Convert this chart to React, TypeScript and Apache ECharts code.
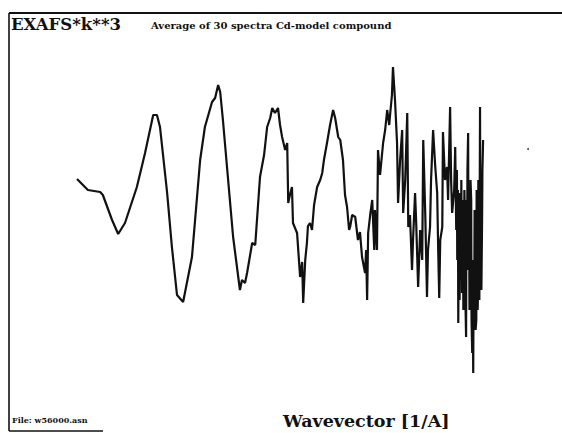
import React, { useEffect, useRef } from "react";
import * as echarts from "echarts";

// Wavevector k [1/A]
const kValues = [
  2.0, 2.32, 2.68, 2.76, 3.03, 3.21, 3.41, 3.76, 4.0, 4.24, 4.35, 4.44, 4.65, 4.79, 4.94, 5.12,
  5.38, 5.62, 5.76, 5.97, 6.06, 6.15, 6.21, 6.29, 6.41, 6.59, 6.79, 6.85, 6.94, 7.0, 7.15, 7.24,
  7.38, 7.5, 7.59, 7.68, 7.74, 7.82, 7.91, 7.97, 8.03, 8.12, 8.18, 8.21, 8.26, 8.32, 8.35, 8.47,
  8.56, 8.62, 8.65, 8.71, 8.76, 8.79, 8.85, 8.91, 8.97, 9.06, 9.15, 9.21, 9.26, 9.35, 9.44, 9.53,
  9.59, 9.68, 9.74, 9.82, 9.88, 9.94, 10.0, 10.03, 10.09, 10.18, 10.26, 10.32, 10.38, 10.47, 10.5,
  10.53, 10.56, 10.62, 10.68, 10.74, 10.76, 10.82, 10.85, 10.91, 11.0, 11.06, 11.12, 11.18, 11.21,
  11.26, 11.29, 11.35, 11.41, 11.44, 11.5, 11.56, 11.59, 11.65, 11.71, 11.74, 11.79, 11.85, 11.88,
  11.94, 11.97, 12.03, 12.09, 12.15, 12.18, 12.24, 12.29, 12.32, 12.38, 12.41, 12.47, 12.53, 12.59,
  12.62, 12.65, 12.68, 12.74, 12.76, 12.82, 12.88, 12.91, 12.97, 13.0, 13.03, 13.09, 13.12,
  13.15, 13.17, 13.18, 13.2, 13.21, 13.23, 13.24, 13.25, 13.26, 13.28, 13.29, 13.3, 13.32, 13.33,
  13.34, 13.36, 13.38, 13.39, 13.41, 13.42, 13.44, 13.45, 13.47, 13.48, 13.5, 13.51, 13.53, 13.54,
  13.56, 13.57, 13.59, 13.6, 13.62, 13.63, 13.65, 13.66, 13.68, 13.69, 13.71, 13.72, 13.74, 13.75,
  13.76, 13.78, 13.79, 13.8, 13.82, 13.83, 13.85, 13.86, 13.88, 13.89, 13.91, 13.92, 13.94,
];

// EXAFS * k^3 (arbitrary units)
const chiK3 = [
  5.1, 4.0, 3.8, 3.5, 1.0, -0.4, 0.7, 4.3, 7.7, 11.5, 11.5, 10.3, 3.7, -1.7, -6.5, -7.2,
  -2.7, 7.0, 10.3, 12.8, 13.2, 14.5, 13.8, 11.0, 6.3, -0.7, -6.0, -5.0, -5.3, -4.3, -1.3, -1.5,
  5.3, 7.5, 10.3, 11.2, 12.2, 11.7, 12.2, 10.5, 9.3, 8.0, 8.7, 2.7, 3.5, 4.3, 0.7, -0.3,
  -4.7, -3.2, -7.3, -3.0, -1.3, 0.4, 0.7, 0.0, 2.5, 4.3, 5.0, 5.7, 7.0, 8.7, 10.5, 12.0,
  11.2, 9.3, 9.0, 7.0, 3.5, 2.3, 0.0, 0.3, 1.5, 1.3, -1.0, -0.2, -2.7, -4.3, -2.0,
  -7.0, -0.3, 1.5, 3.0, -2.0, 2.0, -2.0, 8.0, 5.5, 8.7, 10.0, 12.0, 10.5, 11.7,
  13.5, 16.3, 13.0, 8.7, 2.7, 7.0, 10.0, 1.7, 5.0, 11.7, 0.3, 1.5, -4.0, -1.0,
  3.7, 1.0, -5.7, 0.0, -3.0, 9.0, 1.5, -6.7, -2.0, 0.3, 5.0, 10.0, 6.5, 3.7,
  -2.0, -6.8, -1.0, 0.3, 9.8, 5.0, 6.3, 3.0, 12.3, 5.0, 1.7, 4.0, 8.3,
  0.0, 6.0, -3.0, 4.0, -9.3, 2.0, -1.0, -7.0, 3.7, -5.0, -4.0, 5.0, -6.3, 2.0,
  3.0, -8.0, -5.0, 4.0, 0.0, -7.0, -10.7, 3.0, -2.0, 6.0, 9.7, -4.0, 1.0, -8.0,
  -6.0, 5.0, 3.0, -9.0, -12.3, -3.0, -14.3, -5.0, -7.0, 2.0, -3.0, -10.0, -9.0, 4.0,
  2.0, -8.0, -6.3, 5.0, 0.0, -7.0, 12.3, -2.0, 3.0, -6.0, 1.0, 6.0, 9.0,
];

// stray speck on the scan
const speck = [[15.26, 8.1]];

const titleText = "EXAFS*k**3";
const subtitleText = "Average of 30 spectra Cd-model compound";
const fileText = "File: w56000.asn";
const xAxisName = "Wavevector [1/A]";

export default function App() {
  const ref = useRef<HTMLDivElement>(null);
  useEffect(() => {
    if (!ref.current) return;
    const chart = echarts.init(ref.current, null, { renderer: "svg" });
    const data = kValues.map((k, i) => [k, chiK3[i]]);
    const serif = "'DejaVu Serif', 'Liberation Serif', serif";
    chart.setOption({
      animation: false,
      backgroundColor: "#ffffff",
      grid: { left: 9, top: 13, width: 553, height: 418, containLabel: false },
      xAxis: { type: "value", min: 0, max: 16.26, show: false },
      yAxis: { type: "value", min: -20.1, max: 21.7, show: false },
      series: [
        {
          type: "line",
          data,
          symbol: "none",
          lineStyle: { color: "#111111", width: 2.2 },
          z: 3,
        },
        {
          type: "scatter",
          data: speck,
          symbolSize: 2,
          itemStyle: { color: "#222222" },
        },
      ],
      graphic: [
        { type: "line", shape: { x1: 9, y1: 13, x2: 562, y2: 13 }, style: { stroke: "#111", lineWidth: 1.8 } },
        { type: "line", shape: { x1: 9, y1: 13, x2: 9, y2: 431 }, style: { stroke: "#111", lineWidth: 1.6 } },
        { type: "line", shape: { x1: 9, y1: 431, x2: 103, y2: 431 }, style: { stroke: "#111", lineWidth: 1.4 } },
        {
          type: "text",
          left: 11,
          top: 16,
          style: { text: titleText, font: `bold 16.5px ${serif}`, fill: "#111" },
        },
        {
          type: "text",
          left: 151,
          top: 20,
          style: { text: subtitleText, font: `bold 10px ${serif}`, fill: "#111" },
        },
        {
          type: "text",
          left: 12,
          top: 416,
          style: { text: fileText, font: `bold 8px ${serif}`, fill: "#111" },
        },
        {
          type: "text",
          left: 283,
          top: 412,
          style: { text: xAxisName, font: `bold 17.5px ${serif}`, fill: "#111" },
        },
      ],
    });
    return () => chart.dispose();
  }, []);
  return (
    <div
      ref={ref}
      style={{ position: "absolute", left: 0, top: 0, width: 562, height: 433, background: "#fff" }}
    />
  );
}
